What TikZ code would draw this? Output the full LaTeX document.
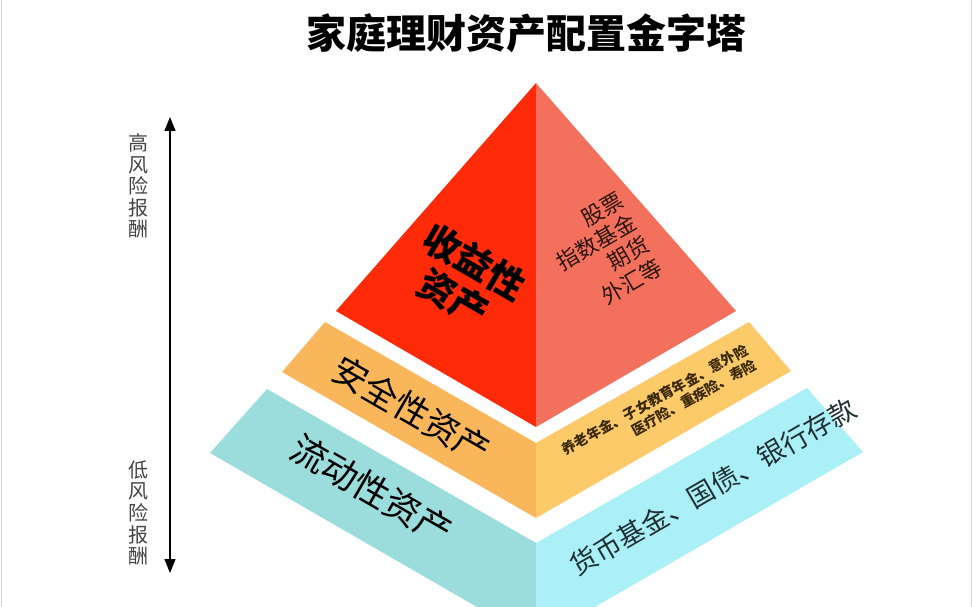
\documentclass[tikz,border=0pt]{standalone}
\usepackage{fontspec}
\newfontfamily\cjk{Noto Sans CJK SC}
\usetikzlibrary{arrows.meta}
\definecolor{redL}{HTML}{FF2A08}
\definecolor{redR}{HTML}{F2705C}
\definecolor{oraL}{HTML}{FAB65A}
\definecolor{oraR}{HTML}{FCCA69}
\definecolor{cyaL}{HTML}{9BDCDC}
\definecolor{cyaR}{HTML}{AAF0F6}
\definecolor{txtRed}{HTML}{2A1510}
\definecolor{txtOra}{HTML}{3A2A08}
\definecolor{txtCya}{HTML}{1F3035}
\definecolor{sidegray}{HTML}{444444}
\tikzset{
  fs/.style={font=\cjk\fontsize{#1}{#1}\selectfont},
  lefttxt/.style={rotate=-30, inner sep=0pt},
  righttxt/.style={rotate=30, inner sep=0pt},
  sidelbl/.style={align=center, inner sep=0pt, text=sidegray, font=\cjk\fontsize{20}{21.6}\selectfont},
}
\begin{document}
\begin{tikzpicture}[x=1pt,y=-1pt]
\useasboundingbox (0,0) rectangle (972,607);
\clip (0,0) rectangle (972,607);
\fill[white] (0,0) rectangle (972,607);
\draw[gray!35, line width=1pt] (1,0) -- (1,607);
\draw[gray!35, line width=1pt] (971,0) -- (971,607);
% pyramid coordinates
\coordinate (A) at (536,83);
\coordinate (RL) at (336,311);
\coordinate (RB) at (536,427);
\coordinate (RR) at (736,311);
\coordinate (OTL) at (325,322);
\coordinate (OBL) at (282,372);
\coordinate (OTC) at (536,443);
\coordinate (OBC) at (536,518);
\coordinate (OTR) at (749,322);
\coordinate (OBR) at (791,371);
\coordinate (CTL) at (267,389);
\coordinate (CBL) at (210,453);
\coordinate (CTC) at (536,543);
\coordinate (CBC) at (536,641);
\coordinate (CTR) at (807,388);
\coordinate (CBR) at (863,452);
% faces
\fill[redL] (A) -- (RL) -- (RB) -- cycle;
\fill[redR] (A) -- (RB) -- (RR) -- cycle;
\fill[oraL] (OTL) -- (OTC) -- (OBC) -- (OBL) -- cycle;
\fill[oraR] (OTC) -- (OTR) -- (OBR) -- (OBC) -- cycle;
\fill[cyaL] (CTL) -- (CTC) -- (CBC) -- (CBL) -- cycle;
\fill[cyaR] (CTC) -- (CTR) -- (CBR) -- (CBC) -- cycle;
% title
\node[font=\cjk\bfseries\fontsize{40}{48}\selectfont] (title) at (526,33) {家庭理财资产配置金字塔};
% side arrow and labels
\coordinate (arrTop) at (170,117);
\coordinate (arrBot) at (170,573);
\draw[line width=1.3pt, {Triangle[width=11pt,length=14pt]}-{Triangle[width=11pt,length=14pt]}] (arrTop) -- (arrBot);
\node[sidelbl] (hi) at (138,186) {高\\风\\险\\报\\酬};
\node[sidelbl] (lo) at (138,513) {低\\风\\险\\报\\酬};
% texts
\node[lefttxt, align=center, font=\cjk\bfseries\fontsize{37}{41}\selectfont] (shouyi) at (464,280) {收益性\\资产};
\node[righttxt, align=right, text=txtRed, font=\cjk\fontsize{22}{25.5}\selectfont] (gupiao) at (603,254) {股票\\指数基金\\期货\\外汇等};
\node[lefttxt, fs=35] (anquan) at (412,410) {安全性资产};
\node[rotate=29, inner sep=0pt, align=right, text=txtOra, font=\cjk\bfseries\fontsize{14}{17}\selectfont] (baoxian) at (659,407) {养老年金、子女教育年金、意外险\\医疗险、重疾险、寿险};
\node[lefttxt, fs=36] (liudong) at (372,490) {流动性资产};
\node[righttxt, text=txtCya, fs=27] (huobi) at (713,487) {货币基金、国债、银行存款};
\end{tikzpicture}
\end{document}
